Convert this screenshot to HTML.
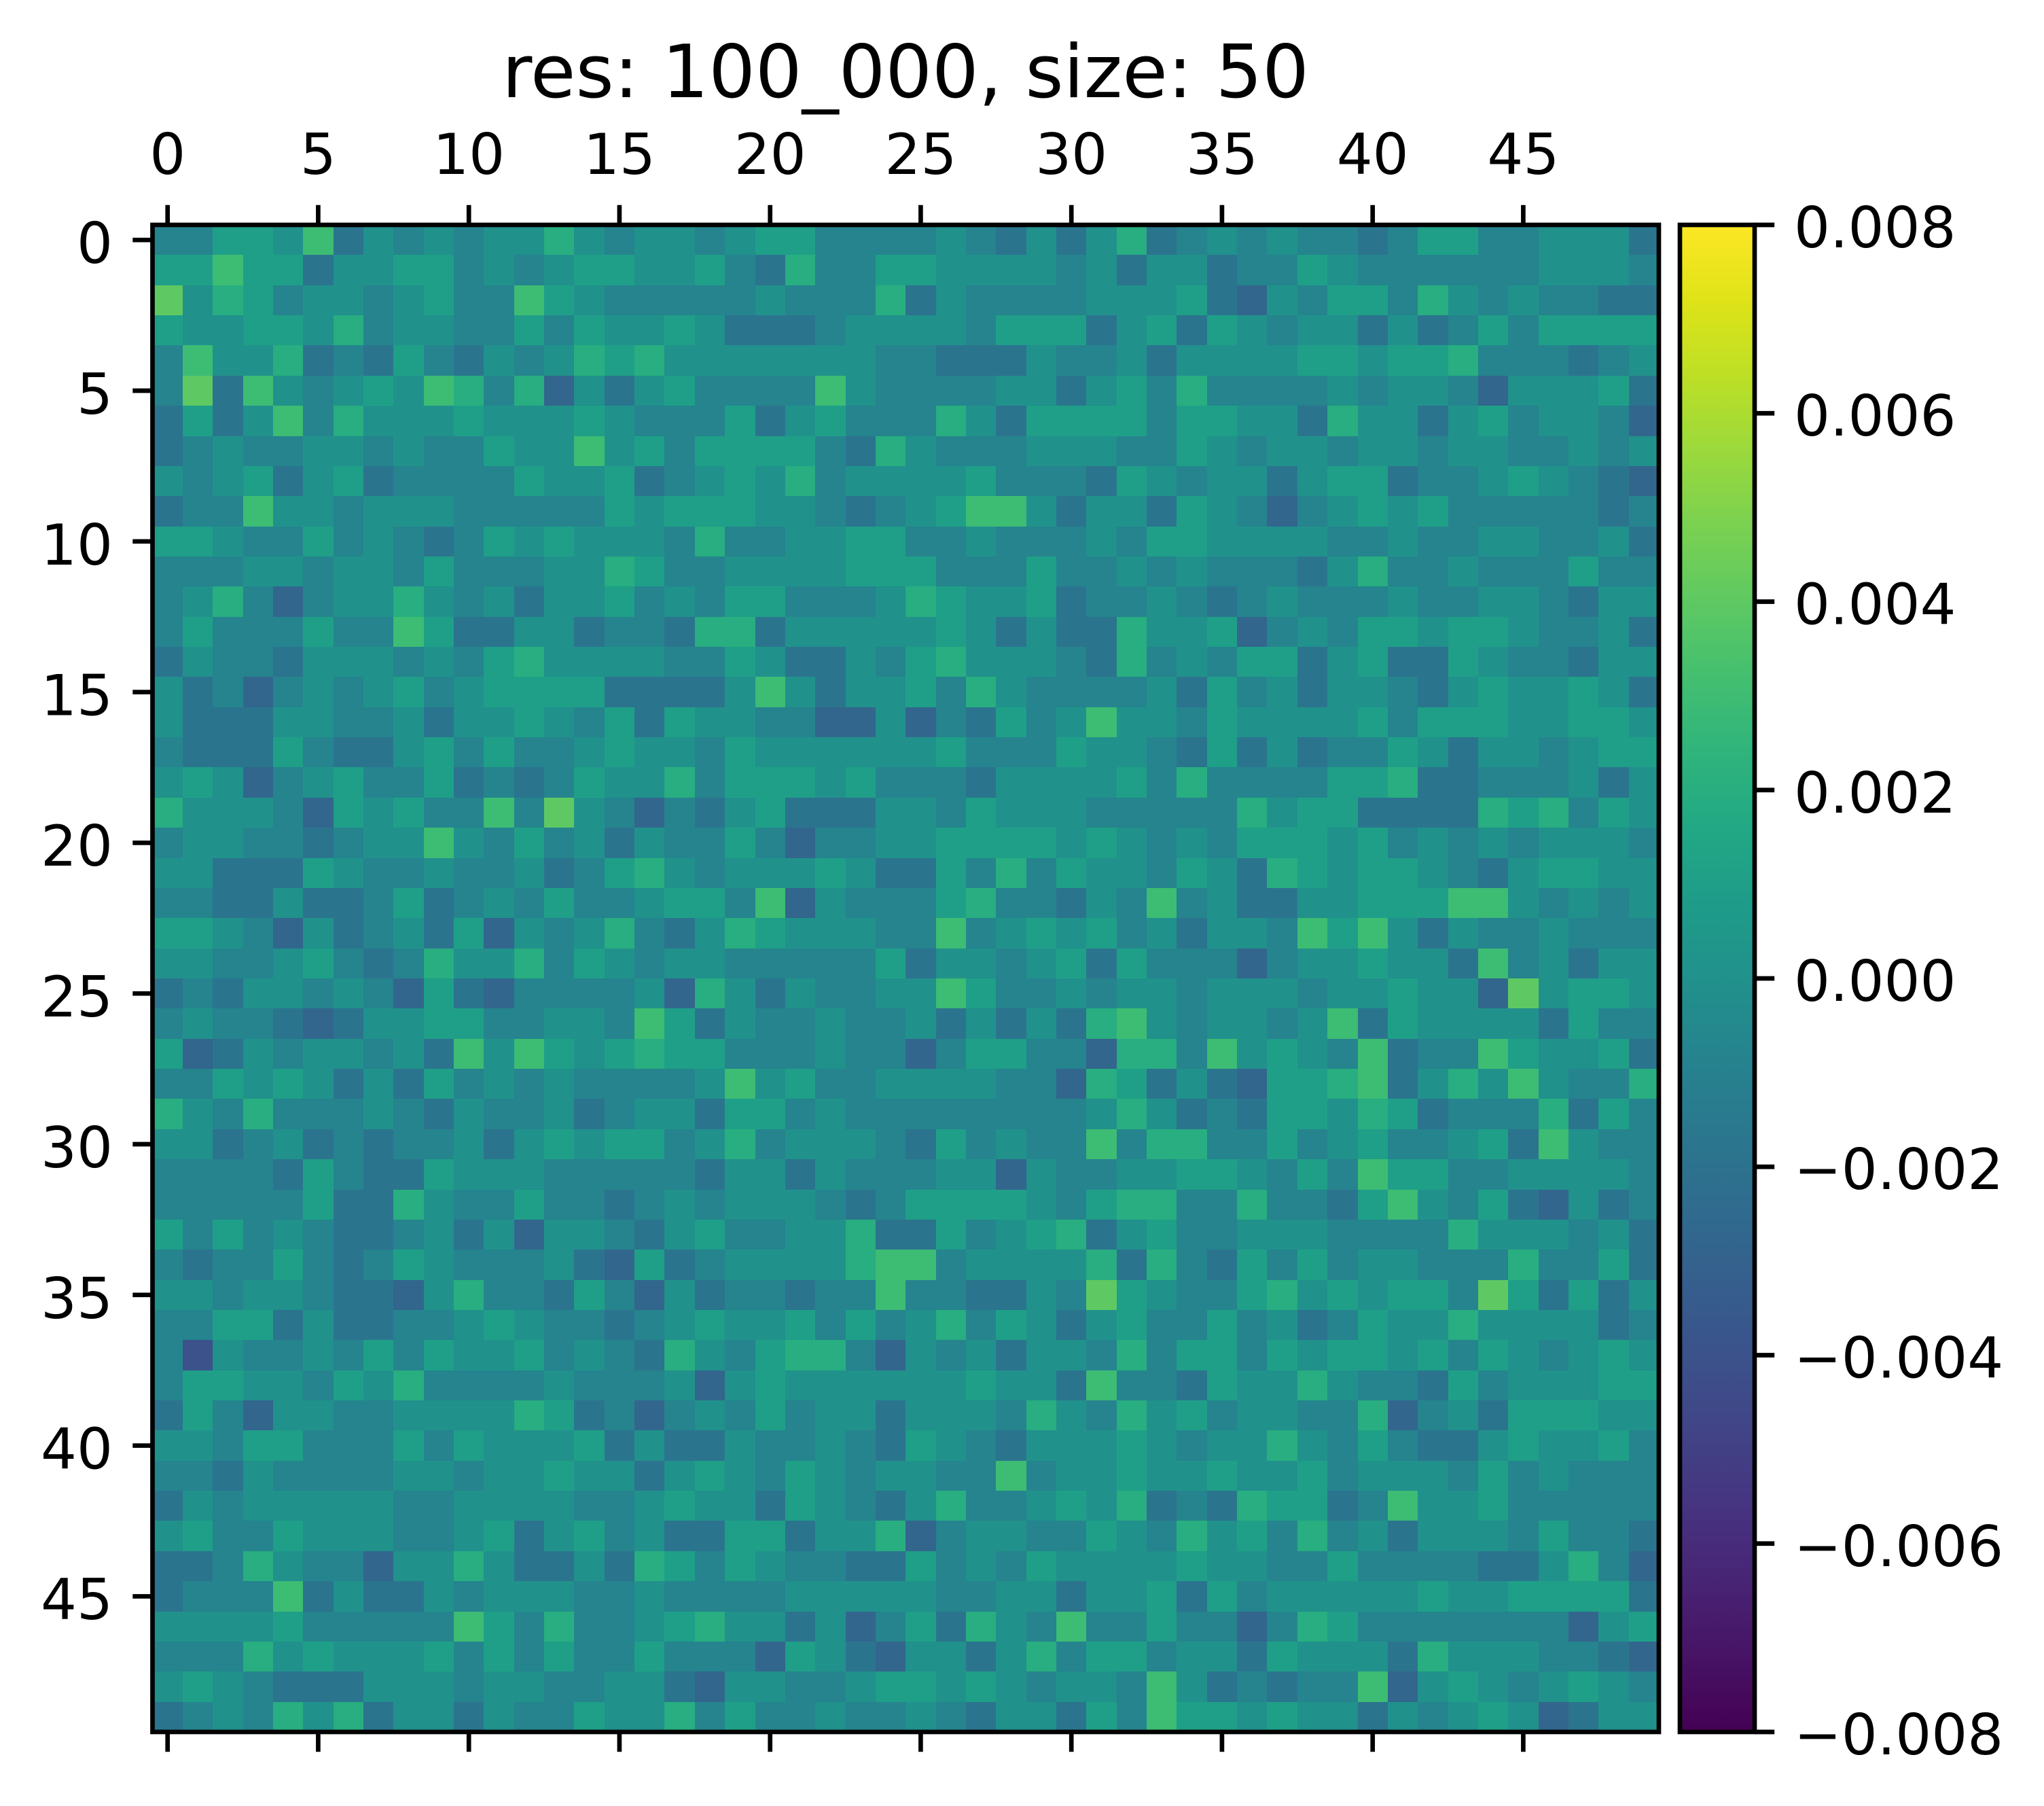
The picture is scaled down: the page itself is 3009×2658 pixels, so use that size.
<!DOCTYPE html>
<html>
<head>
<meta charset="utf-8">
<style>
html,body{margin:0;padding:0;background:#fff;}
svg{display:block;}
text{font-family:"DejaVu Sans","Liberation Sans",sans-serif;fill:#000;}
</style>
</head>
<body>
<svg id="fig" xmlns="http://www.w3.org/2000/svg" width="3009" height="2658" viewBox="0 0 3009 2658">
<defs>
<linearGradient id="vir" x1="0" y1="1" x2="0" y2="0">
<stop offset="0" stop-color="#440154"/>
<stop offset="0.05" stop-color="#471365"/>
<stop offset="0.10" stop-color="#482475"/>
<stop offset="0.15" stop-color="#463480"/>
<stop offset="0.20" stop-color="#414487"/>
<stop offset="0.25" stop-color="#3b528b"/>
<stop offset="0.30" stop-color="#355f8d"/>
<stop offset="0.35" stop-color="#2f6c8e"/>
<stop offset="0.40" stop-color="#2a788e"/>
<stop offset="0.45" stop-color="#25848e"/>
<stop offset="0.50" stop-color="#21918c"/>
<stop offset="0.55" stop-color="#1e9c89"/>
<stop offset="0.60" stop-color="#22a884"/>
<stop offset="0.65" stop-color="#2fb47c"/>
<stop offset="0.70" stop-color="#44bf70"/>
<stop offset="0.75" stop-color="#5ec962"/>
<stop offset="0.80" stop-color="#7ad151"/>
<stop offset="0.85" stop-color="#9bd93c"/>
<stop offset="0.90" stop-color="#bddf26"/>
<stop offset="0.95" stop-color="#dfe318"/>
<stop offset="1" stop-color="#fde725"/>
</linearGradient>
</defs>
<rect x="0" y="0" width="3009" height="2658" fill="#ffffff"/>

<text x="1333" y="143" font-size="108" text-anchor="middle">res: 100_000, size: 50</text>

<rect x="224.5" y="331" width="2217.5" height="2218" fill="#21908d"/>
<g id="cells" shape-rendering="crispEdges"></g>

<rect x="224.5" y="331" width="2217.5" height="2218" fill="none" stroke="#000" stroke-width="6.67"/>

<g stroke="#000" stroke-width="6.67" fill="none">
<path d="M246.7 331V301.8 M468.4 331V301.8 M690.2 331V301.8 M911.9 331V301.8 M1133.7 331V301.8 M1355.4 331V301.8 M1577.2 331V301.8 M1798.9 331V301.8 M2020.7 331V301.8 M2242.4 331V301.8"/>
<path d="M246.7 2549V2578.2 M468.4 2549V2578.2 M690.2 2549V2578.2 M911.9 2549V2578.2 M1133.7 2549V2578.2 M1355.4 2549V2578.2 M1577.2 2549V2578.2 M1798.9 2549V2578.2 M2020.7 2549V2578.2 M2242.4 2549V2578.2"/>
<path d="M224.5 353.2H195.3 M224.5 575H195.3 M224.5 796.8H195.3 M224.5 1018.6H195.3 M224.5 1240.4H195.3 M224.5 1462.2H195.3 M224.5 1684H195.3 M224.5 1905.8H195.3 M224.5 2127.6H195.3 M224.5 2349.4H195.3"/>
</g>

<g font-size="83.3" text-anchor="middle">
<text x="246.7" y="256">0</text>
<text x="468.4" y="256">5</text>
<text x="690.2" y="256">10</text>
<text x="911.9" y="256">15</text>
<text x="1133.7" y="256">20</text>
<text x="1355.4" y="256">25</text>
<text x="1577.2" y="256">30</text>
<text x="1798.9" y="256">35</text>
<text x="2020.7" y="256">40</text>
<text x="2242.4" y="256">45</text>
</g>

<g font-size="83.3" text-anchor="end">
<text x="166" y="387">0</text>
<text x="166" y="609">5</text>
<text x="166" y="831">10</text>
<text x="166" y="1052.5">15</text>
<text x="166" y="1274">20</text>
<text x="166" y="1496">25</text>
<text x="166" y="1718">30</text>
<text x="166" y="1940">35</text>
<text x="166" y="2161.5">40</text>
<text x="166" y="2383">45</text>
</g>

<rect x="2473" y="331" width="110" height="2218" fill="url(#vir)"/>
<rect x="2473" y="331" width="110" height="2218" fill="none" stroke="#000" stroke-width="6.67"/>
<g stroke="#000" stroke-width="6.67">
<path d="M2583 331H2612.2 M2583 608.25H2612.2 M2583 885.5H2612.2 M2583 1162.75H2612.2 M2583 1440H2612.2 M2583 1717.25H2612.2 M2583 1994.5H2612.2 M2583 2271.75H2612.2 M2583 2549H2612.2"/>
</g>
<g font-size="83.3" text-anchor="start">
<text x="2641" y="364">0.008</text>
<text x="2641" y="641">0.006</text>
<text x="2641" y="918.5">0.004</text>
<text x="2641" y="1196">0.002</text>
<text x="2641" y="1473">0.000</text>
<text x="2641" y="1750">−0.002</text>
<text x="2641" y="2027.5">−0.004</text>
<text x="2641" y="2305">−0.006</text>
<text x="2641" y="2582">−0.008</text>
</g>
</svg>
<script>
(function(){
var rows=[
"33554724343446434434553333432424623434332355334442",
"55755244553434554453263355444434244233543333334443",
"84653443453375433333433362433334445214355364343322",
"54455463443353544542223444435552452543442423535555",
"37446232532434656444444433222433424444554556333234",
"38274345476361424533337433334424536333343443144452",
"25247364445444543335245333642555535544264424534431",
"23433443433544745355553264333444335434434434433434",
"43452452333354452345463444453332543442455233454321",
"23374434443333354555443234577424425431345453333323",
"55433534323545444363344553343334355444433433443342",
"33344344353334465334444555333533434333246334333533",
"34631344643424453435533346544523343234333433443244",
"35333533752244233266244444542422644513435545543342",
"24332444343564444335422435644432634355245225433244",
"42313434534555522224742445364333342534244324544542",
"42224433424454352544331141325347443544445355544554",
"32225322453533454435444444533354432524233542443455",
"45413453352323544635554533324444536333355622333424",
"64443154533738431324522244354443333364552222656354",
"34433234474353424335313344555545434355545343434443",
"44222543343342356434445422536354435426545543245544",
"33224223523435334553714333563324373422445557743434",
"55431423425143463246544433734545342443757424334333",
"44334532364463543443333352443452533313445442734244",
"23244343152133334164243344753343443444344544184554",
"34332124455334437524334334242426743443472544442533",
"51243443427475456553334331355331663745437233754452",
"33545424253434333347453344443316524215567246474336",
"64363334324334234425534333333334642325546523336253",
"44234232334245455346344432534337366335345334527433",
"33332532254443333324424333441433445543537553344443",
"33333522643353323434443235555435663363325743521423",
"53534322342414432453344622534562453344433336444342",
"32335323543334215234444677344446263253534433363352",
"44344322146332531423323373322438543356454553852524",
"33552422334543323454453534635424533534235446444423",
"30433435354453432643566314342443635535455453543454",
"35544354633334333414544444454427332544643325344455",
"25314433444465231343534424443643645344336134255544",
"44355333535444524224334325432444543446435322454453",
"33243333443445442454354344337344544544534443534333",
"24344444334444334544254324633454623265523744533333",
"45335444334524534225524461344335436453634244435332",
"22364331446422426535433225343544445443353333224631",
"23337242243444334333344444334424452534444454455552",
"44445333337536334564424135264373353313653333333145",
"33364544453535335333154214424635534425444264443321",
"45432224443443344214433455454344374232337145434543",
"23436462442433544635334334324425375545442434541244"
];
var pal=['#3b528b','#32668d','#2b748e','#25848e','#21918c','#1f9f88','#28ae80','#3dbc74','#5ec962'];
var L=224.5,T=331,CW=2217.5/50,CH=2218/50;
var g=document.getElementById('cells');
var NS='http://www.w3.org/2000/svg';
for(var r=0;r<50;r++){
  var row=rows[r];
  var y0=Math.round(T+r*CH), y1=Math.round(T+(r+1)*CH);
  for(var c=0;c<50;c++){
    var v=parseInt(row.charAt(c),10);
    if(isNaN(v)) v=4;
    var x0=Math.round(L+c*CW), x1=Math.round(L+(c+1)*CW);
    var e=document.createElementNS(NS,'rect');
    e.setAttribute('x',x0);
    e.setAttribute('y',y0);
    e.setAttribute('width',x1-x0);
    e.setAttribute('height',y1-y0);
    e.setAttribute('fill',pal[v]);
    g.appendChild(e);
  }
}
})();
</script>
</body>
</html>
